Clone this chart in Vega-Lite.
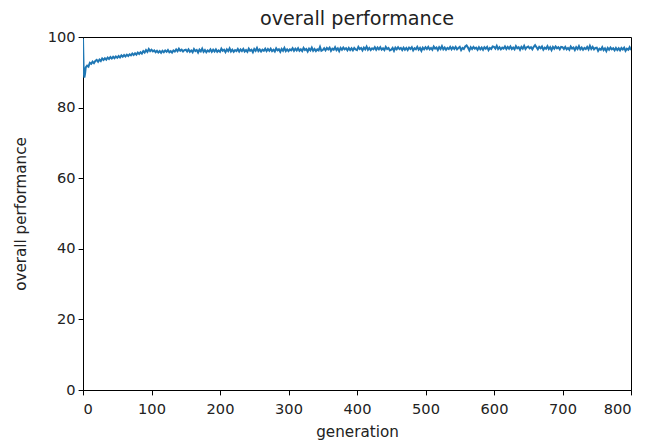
{
  "$schema": "https://vega.github.io/schema/vega-lite/v6.json",
  "width": 548,
  "height": 353,
  "autosize": "none",
  "padding": {"left": 83, "top": 37, "right": 16, "bottom": 54},
  "background": "white",
  "config": {
    "font": "DejaVu Sans",
    "view": {"stroke": "black", "strokeWidth": 1},
    "axis": {
      "grid": false,
      "domainColor": "black",
      "tickColor": "black",
      "labelColor": "#222222",
      "titleColor": "#222222",
      "labelFontSize": 14.6,
      "titleFontSize": 15.2,
      "titleFontWeight": "normal",
      "tickSize": 4.9
    }
  },
  "title": {
    "text": "overall performance",
    "fontSize": 19.2,
    "fontWeight": "normal",
    "color": "#222222",
    "offset": 0
  },
  "data": {
    "values": [
      {"gen": 0, "perf": 99.6}, {"gen": 1, "perf": 90.2}, {"gen": 2, "perf": 88.5}, {"gen": 3, "perf": 89.6},
      {"gen": 4, "perf": 91.4}, {"gen": 6, "perf": 91.9}, {"gen": 8, "perf": 91.6}, {"gen": 10, "perf": 92.7},
      {"gen": 12, "perf": 92.4}, {"gen": 14, "perf": 93.0}, {"gen": 16, "perf": 92.6}, {"gen": 18, "perf": 93.2},
      {"gen": 20, "perf": 93.5}, {"gen": 22, "perf": 93.0}, {"gen": 24, "perf": 93.6}, {"gen": 26, "perf": 93.2},
      {"gen": 28, "perf": 93.9}, {"gen": 30, "perf": 93.5}, {"gen": 32, "perf": 94.0}, {"gen": 34, "perf": 93.6},
      {"gen": 36, "perf": 94.2}, {"gen": 38, "perf": 93.8}, {"gen": 40, "perf": 94.3}, {"gen": 42, "perf": 93.9},
      {"gen": 44, "perf": 94.4}, {"gen": 46, "perf": 94.0}, {"gen": 48, "perf": 94.5}, {"gen": 50, "perf": 94.1},
      {"gen": 52, "perf": 94.6}, {"gen": 54, "perf": 94.2}, {"gen": 56, "perf": 94.8}, {"gen": 58, "perf": 94.4},
      {"gen": 60, "perf": 94.9}, {"gen": 62, "perf": 94.5}, {"gen": 64, "perf": 95.0}, {"gen": 66, "perf": 94.6},
      {"gen": 68, "perf": 95.1}, {"gen": 70, "perf": 94.8}, {"gen": 72, "perf": 95.3}, {"gen": 74, "perf": 94.9},
      {"gen": 76, "perf": 95.4}, {"gen": 78, "perf": 95.0}, {"gen": 80, "perf": 95.6}, {"gen": 82, "perf": 95.2},
      {"gen": 84, "perf": 95.7}, {"gen": 86, "perf": 95.3}, {"gen": 88, "perf": 96.0}, {"gen": 90, "perf": 95.6},
      {"gen": 92, "perf": 96.3}, {"gen": 94, "perf": 95.8}, {"gen": 96, "perf": 96.6}, {"gen": 98, "perf": 96.0},
      {"gen": 100, "perf": 96.4}, {"gen": 102, "perf": 95.9}, {"gen": 104, "perf": 96.2}, {"gen": 106, "perf": 95.7},
      {"gen": 108, "perf": 96.1}, {"gen": 110, "perf": 95.6}, {"gen": 112, "perf": 96.0}, {"gen": 114, "perf": 95.5},
      {"gen": 116, "perf": 96.1}, {"gen": 118, "perf": 95.7}, {"gen": 120, "perf": 96.2}, {"gen": 122, "perf": 95.8},
      {"gen": 124, "perf": 96.3}, {"gen": 126, "perf": 95.7}, {"gen": 128, "perf": 96.0}, {"gen": 130, "perf": 95.6},
      {"gen": 132, "perf": 96.2}, {"gen": 134, "perf": 95.9}, {"gen": 136, "perf": 96.5}, {"gen": 138, "perf": 96.0},
      {"gen": 140, "perf": 96.7}, {"gen": 142, "perf": 96.1}, {"gen": 144, "perf": 96.4}, {"gen": 146, "perf": 95.9},
      {"gen": 148, "perf": 96.3}, {"gen": 150, "perf": 96.4}, {"gen": 152, "perf": 95.9}, {"gen": 154, "perf": 96.5},
      {"gen": 156, "perf": 95.8}, {"gen": 158, "perf": 96.2}, {"gen": 160, "perf": 95.7}, {"gen": 162, "perf": 96.6},
      {"gen": 164, "perf": 96.0}, {"gen": 166, "perf": 96.3}, {"gen": 168, "perf": 95.6}, {"gen": 170, "perf": 96.4},
      {"gen": 172, "perf": 95.9}, {"gen": 174, "perf": 96.7}, {"gen": 176, "perf": 95.8}, {"gen": 178, "perf": 96.3},
      {"gen": 180, "perf": 95.7}, {"gen": 182, "perf": 96.2}, {"gen": 184, "perf": 95.9}, {"gen": 186, "perf": 96.5},
      {"gen": 188, "perf": 95.8}, {"gen": 190, "perf": 96.4}, {"gen": 192, "perf": 95.9}, {"gen": 194, "perf": 96.5},
      {"gen": 196, "perf": 95.8}, {"gen": 198, "perf": 96.2}, {"gen": 200, "perf": 95.8}, {"gen": 202, "perf": 96.7},
      {"gen": 204, "perf": 96.1}, {"gen": 206, "perf": 96.4}, {"gen": 208, "perf": 95.7}, {"gen": 210, "perf": 96.5},
      {"gen": 212, "perf": 96.0}, {"gen": 214, "perf": 96.8}, {"gen": 216, "perf": 95.9}, {"gen": 218, "perf": 96.4},
      {"gen": 220, "perf": 95.8}, {"gen": 222, "perf": 96.3}, {"gen": 224, "perf": 96.0}, {"gen": 226, "perf": 96.6},
      {"gen": 228, "perf": 95.9}, {"gen": 230, "perf": 96.5}, {"gen": 232, "perf": 96.0}, {"gen": 234, "perf": 96.6},
      {"gen": 236, "perf": 95.9}, {"gen": 238, "perf": 96.3}, {"gen": 240, "perf": 95.8}, {"gen": 242, "perf": 96.7},
      {"gen": 244, "perf": 96.1}, {"gen": 246, "perf": 96.4}, {"gen": 248, "perf": 95.7}, {"gen": 250, "perf": 96.6},
      {"gen": 252, "perf": 96.1}, {"gen": 254, "perf": 96.9}, {"gen": 256, "perf": 96.0}, {"gen": 258, "perf": 96.5},
      {"gen": 260, "perf": 95.9}, {"gen": 262, "perf": 96.4}, {"gen": 264, "perf": 96.1}, {"gen": 266, "perf": 96.7},
      {"gen": 268, "perf": 96.0}, {"gen": 270, "perf": 96.6}, {"gen": 272, "perf": 96.1}, {"gen": 274, "perf": 96.7},
      {"gen": 276, "perf": 96.0}, {"gen": 278, "perf": 96.4}, {"gen": 280, "perf": 95.9}, {"gen": 282, "perf": 96.8},
      {"gen": 284, "perf": 96.2}, {"gen": 286, "perf": 96.5}, {"gen": 288, "perf": 95.8}, {"gen": 290, "perf": 96.6},
      {"gen": 292, "perf": 96.1}, {"gen": 294, "perf": 96.9}, {"gen": 296, "perf": 96.0}, {"gen": 298, "perf": 96.5},
      {"gen": 300, "perf": 96.0}, {"gen": 302, "perf": 96.5}, {"gen": 304, "perf": 96.2}, {"gen": 306, "perf": 96.8},
      {"gen": 308, "perf": 96.1}, {"gen": 310, "perf": 96.7}, {"gen": 312, "perf": 96.2}, {"gen": 314, "perf": 96.8},
      {"gen": 316, "perf": 96.1}, {"gen": 318, "perf": 96.5}, {"gen": 320, "perf": 96.0}, {"gen": 322, "perf": 96.9},
      {"gen": 324, "perf": 96.3}, {"gen": 326, "perf": 96.6}, {"gen": 328, "perf": 95.9}, {"gen": 330, "perf": 96.7},
      {"gen": 332, "perf": 96.2}, {"gen": 334, "perf": 97.0}, {"gen": 336, "perf": 96.1}, {"gen": 338, "perf": 96.6},
      {"gen": 340, "perf": 96.0}, {"gen": 342, "perf": 96.5}, {"gen": 344, "perf": 96.2}, {"gen": 346, "perf": 97.2},
      {"gen": 348, "perf": 96.1}, {"gen": 350, "perf": 96.3}, {"gen": 352, "perf": 96.8}, {"gen": 354, "perf": 96.2},
      {"gen": 356, "perf": 96.9}, {"gen": 358, "perf": 96.5}, {"gen": 360, "perf": 97.0}, {"gen": 362, "perf": 96.1},
      {"gen": 364, "perf": 96.7}, {"gen": 366, "perf": 96.4}, {"gen": 368, "perf": 97.1}, {"gen": 370, "perf": 96.3},
      {"gen": 372, "perf": 96.8}, {"gen": 374, "perf": 96.0}, {"gen": 376, "perf": 96.9}, {"gen": 378, "perf": 96.4},
      {"gen": 380, "perf": 97.0}, {"gen": 382, "perf": 96.5}, {"gen": 384, "perf": 96.8}, {"gen": 386, "perf": 96.2},
      {"gen": 388, "perf": 96.9}, {"gen": 390, "perf": 96.3}, {"gen": 392, "perf": 96.8}, {"gen": 394, "perf": 96.2},
      {"gen": 396, "perf": 96.9}, {"gen": 398, "perf": 96.5}, {"gen": 400, "perf": 96.3}, {"gen": 402, "perf": 97.2},
      {"gen": 404, "perf": 96.6}, {"gen": 406, "perf": 96.9}, {"gen": 408, "perf": 96.2}, {"gen": 410, "perf": 97.0},
      {"gen": 412, "perf": 96.5}, {"gen": 414, "perf": 97.3}, {"gen": 416, "perf": 96.4}, {"gen": 418, "perf": 96.9},
      {"gen": 420, "perf": 96.3}, {"gen": 422, "perf": 96.8}, {"gen": 424, "perf": 96.5}, {"gen": 426, "perf": 97.1},
      {"gen": 428, "perf": 96.4}, {"gen": 430, "perf": 97.0}, {"gen": 432, "perf": 96.5}, {"gen": 434, "perf": 97.1},
      {"gen": 436, "perf": 96.4}, {"gen": 438, "perf": 96.8}, {"gen": 440, "perf": 96.3}, {"gen": 442, "perf": 97.2},
      {"gen": 444, "perf": 96.6}, {"gen": 446, "perf": 96.9}, {"gen": 448, "perf": 96.2}, {"gen": 450, "perf": 96.4},
      {"gen": 452, "perf": 96.9}, {"gen": 454, "perf": 96.1}, {"gen": 456, "perf": 97.0}, {"gen": 458, "perf": 96.5},
      {"gen": 460, "perf": 97.1}, {"gen": 462, "perf": 96.6}, {"gen": 464, "perf": 96.9}, {"gen": 466, "perf": 96.3},
      {"gen": 468, "perf": 97.0}, {"gen": 470, "perf": 96.4}, {"gen": 472, "perf": 96.9}, {"gen": 474, "perf": 96.3},
      {"gen": 476, "perf": 97.0}, {"gen": 478, "perf": 96.6}, {"gen": 480, "perf": 97.1}, {"gen": 482, "perf": 96.2},
      {"gen": 484, "perf": 96.8}, {"gen": 486, "perf": 96.5}, {"gen": 488, "perf": 97.2}, {"gen": 490, "perf": 96.4},
      {"gen": 492, "perf": 96.9}, {"gen": 494, "perf": 96.1}, {"gen": 496, "perf": 97.0}, {"gen": 498, "perf": 96.5},
      {"gen": 500, "perf": 97.1}, {"gen": 502, "perf": 96.6}, {"gen": 504, "perf": 97.2}, {"gen": 506, "perf": 96.5},
      {"gen": 508, "perf": 96.9}, {"gen": 510, "perf": 96.4}, {"gen": 512, "perf": 97.3}, {"gen": 514, "perf": 96.7},
      {"gen": 516, "perf": 97.0}, {"gen": 518, "perf": 96.3}, {"gen": 520, "perf": 97.1}, {"gen": 522, "perf": 96.6},
      {"gen": 524, "perf": 97.4}, {"gen": 526, "perf": 96.5}, {"gen": 528, "perf": 97.0}, {"gen": 530, "perf": 96.4},
      {"gen": 532, "perf": 96.9}, {"gen": 534, "perf": 96.6}, {"gen": 536, "perf": 97.2}, {"gen": 538, "perf": 96.5},
      {"gen": 540, "perf": 97.1}, {"gen": 542, "perf": 96.6}, {"gen": 544, "perf": 97.2}, {"gen": 546, "perf": 96.5},
      {"gen": 548, "perf": 96.9}, {"gen": 550, "perf": 97.2}, {"gen": 552, "perf": 96.3}, {"gen": 554, "perf": 96.9},
      {"gen": 556, "perf": 96.6}, {"gen": 558, "perf": 97.3}, {"gen": 560, "perf": 97.6}, {"gen": 562, "perf": 97.0},
      {"gen": 564, "perf": 96.2}, {"gen": 566, "perf": 97.1}, {"gen": 568, "perf": 96.6}, {"gen": 570, "perf": 97.2},
      {"gen": 572, "perf": 96.7}, {"gen": 574, "perf": 97.0}, {"gen": 576, "perf": 96.4}, {"gen": 578, "perf": 97.1},
      {"gen": 580, "perf": 96.5}, {"gen": 582, "perf": 97.0}, {"gen": 584, "perf": 96.4}, {"gen": 586, "perf": 97.1},
      {"gen": 588, "perf": 96.7}, {"gen": 590, "perf": 97.2}, {"gen": 592, "perf": 96.3}, {"gen": 594, "perf": 96.9},
      {"gen": 596, "perf": 96.6}, {"gen": 598, "perf": 97.3}, {"gen": 600, "perf": 97.2}, {"gen": 602, "perf": 96.7},
      {"gen": 604, "perf": 97.5}, {"gen": 606, "perf": 96.6}, {"gen": 608, "perf": 97.1}, {"gen": 610, "perf": 96.5},
      {"gen": 612, "perf": 97.0}, {"gen": 614, "perf": 96.7}, {"gen": 616, "perf": 97.3}, {"gen": 618, "perf": 96.6},
      {"gen": 620, "perf": 97.2}, {"gen": 622, "perf": 96.7}, {"gen": 624, "perf": 97.3}, {"gen": 626, "perf": 96.6},
      {"gen": 628, "perf": 97.0}, {"gen": 630, "perf": 96.5}, {"gen": 632, "perf": 97.4}, {"gen": 634, "perf": 96.8},
      {"gen": 636, "perf": 97.1}, {"gen": 638, "perf": 96.4}, {"gen": 640, "perf": 97.2}, {"gen": 642, "perf": 96.7},
      {"gen": 644, "perf": 97.5}, {"gen": 646, "perf": 96.6}, {"gen": 648, "perf": 97.1}, {"gen": 650, "perf": 97.3},
      {"gen": 652, "perf": 96.8}, {"gen": 654, "perf": 97.1}, {"gen": 656, "perf": 96.5}, {"gen": 658, "perf": 97.2},
      {"gen": 660, "perf": 97.7}, {"gen": 662, "perf": 97.1}, {"gen": 664, "perf": 96.5}, {"gen": 666, "perf": 97.2},
      {"gen": 668, "perf": 96.8}, {"gen": 670, "perf": 97.3}, {"gen": 672, "perf": 96.4}, {"gen": 674, "perf": 97.0},
      {"gen": 676, "perf": 96.7}, {"gen": 678, "perf": 97.4}, {"gen": 680, "perf": 96.6}, {"gen": 682, "perf": 97.1},
      {"gen": 684, "perf": 96.3}, {"gen": 686, "perf": 97.2}, {"gen": 688, "perf": 96.7}, {"gen": 690, "perf": 97.3},
      {"gen": 692, "perf": 96.8}, {"gen": 694, "perf": 97.1}, {"gen": 696, "perf": 96.5}, {"gen": 698, "perf": 97.2},
      {"gen": 700, "perf": 97.1}, {"gen": 702, "perf": 96.6}, {"gen": 704, "perf": 97.2}, {"gen": 706, "perf": 96.5},
      {"gen": 708, "perf": 96.9}, {"gen": 710, "perf": 96.4}, {"gen": 712, "perf": 97.3}, {"gen": 714, "perf": 96.7},
      {"gen": 716, "perf": 97.0}, {"gen": 718, "perf": 96.3}, {"gen": 720, "perf": 97.1}, {"gen": 722, "perf": 96.6},
      {"gen": 724, "perf": 97.4}, {"gen": 726, "perf": 96.5}, {"gen": 728, "perf": 97.0}, {"gen": 730, "perf": 96.4},
      {"gen": 732, "perf": 96.9}, {"gen": 734, "perf": 96.6}, {"gen": 736, "perf": 97.2}, {"gen": 738, "perf": 96.5},
      {"gen": 740, "perf": 97.5}, {"gen": 742, "perf": 96.6}, {"gen": 744, "perf": 97.2}, {"gen": 746, "perf": 96.5},
      {"gen": 748, "perf": 96.9}, {"gen": 750, "perf": 97.0}, {"gen": 752, "perf": 96.1}, {"gen": 754, "perf": 96.7},
      {"gen": 756, "perf": 96.4}, {"gen": 758, "perf": 97.1}, {"gen": 760, "perf": 96.3}, {"gen": 762, "perf": 96.8},
      {"gen": 764, "perf": 96.0}, {"gen": 766, "perf": 96.9}, {"gen": 768, "perf": 96.4}, {"gen": 770, "perf": 97.0},
      {"gen": 772, "perf": 96.5}, {"gen": 774, "perf": 96.8}, {"gen": 776, "perf": 96.2}, {"gen": 778, "perf": 96.9},
      {"gen": 780, "perf": 96.3}, {"gen": 782, "perf": 96.8}, {"gen": 784, "perf": 96.2}, {"gen": 786, "perf": 96.9},
      {"gen": 788, "perf": 96.5}, {"gen": 790, "perf": 97.0}, {"gen": 792, "perf": 96.1}, {"gen": 794, "perf": 96.7},
      {"gen": 796, "perf": 96.4}, {"gen": 798, "perf": 97.1}, {"gen": 800, "perf": 96.3}
    ]
  },
  "mark": {"type": "line", "color": "#1f77b4", "strokeWidth": 2, "clip": true},
  "encoding": {
    "x": {
      "field": "gen",
      "type": "quantitative",
      "title": "generation",
      "scale": {"domain": [0, 800], "nice": false},
      "axis": {"values": [0, 100, 200, 300, 400, 500, 600, 700, 800], "labelPadding": 7, "titlePadding": 8}
    },
    "y": {
      "field": "perf",
      "type": "quantitative",
      "title": "overall performance",
      "scale": {"domain": [0, 100], "nice": false},
      "axis": {"values": [0, 20, 40, 60, 80, 100], "labelPadding": 3, "titlePadding": 19}
    }
  }
}
